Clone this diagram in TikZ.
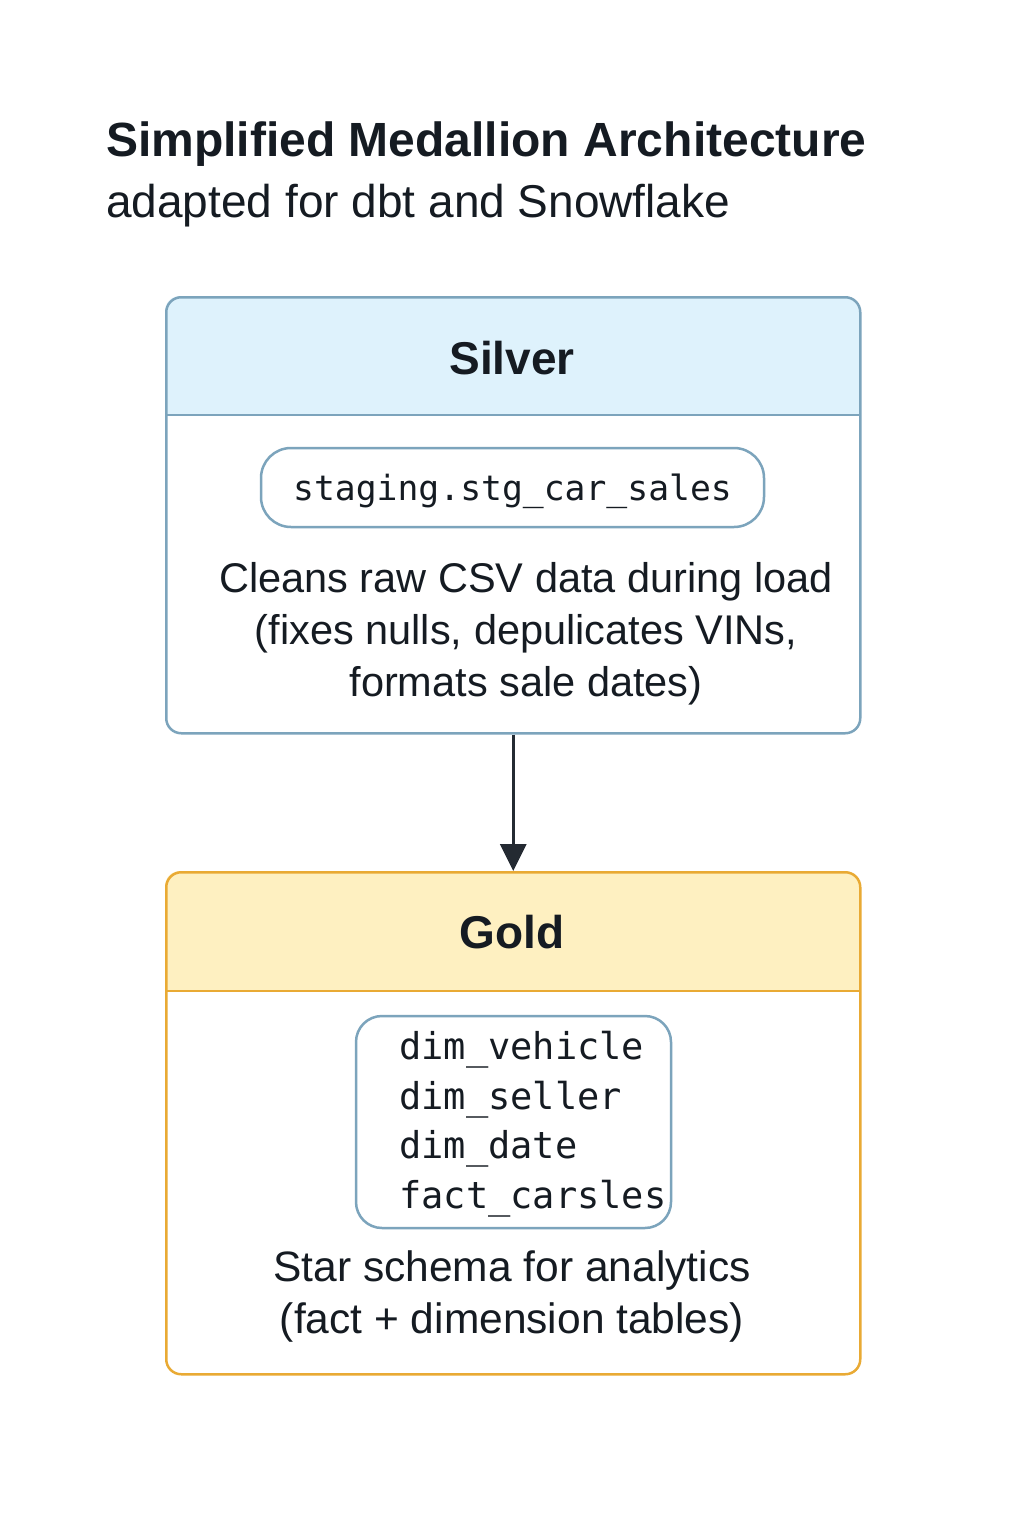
\documentclass[tikz,border=0pt]{standalone}
\usepackage{fontspec}
\setmainfont{Liberation Sans}
\setmonofont{DejaVu Sans Mono}
\usetikzlibrary{arrows.meta}

\definecolor{silverline}{RGB}{124,164,188}
\definecolor{silverfill}{RGB}{222,242,252}
\definecolor{goldline}{RGB}{233,170,52}
\definecolor{goldfill}{RGB}{254,240,193}
\definecolor{inkdark}{RGB}{21,27,34}
\definecolor{arrowink}{RGB}{36,42,50}

\tikzset{every picture/.style={line width=2.5pt},
  layerbox/.style={draw, rounded corners=15pt, inner sep=0pt, minimum width=694pt, anchor=north west},
  tablebox/.style={draw=silverline, rounded corners=26pt, inner sep=0pt},
  layertitle/.style={text=inkdark, inner sep=0pt, font=\fontsize{46}{55}\selectfont\bfseries},
  bodytext/.style={text=inkdark, inner sep=0pt, align=center, anchor=base, font=\fontsize{41.5}{52}\selectfont},
  codetext/.style={text=inkdark, inner sep=0pt, font=\fontsize{37}{49.5}\selectfont\ttfamily}
}

\begin{document}
\begin{tikzpicture}[x=1pt,y=1pt,yscale=-1,xscale=1]
%set diagram left start at 0, and has height of 1536
\fill[white] (0,0) rectangle (1024,1536);
\useasboundingbox (0,0) rectangle (1024,1536);

% Title
\node (title) [anchor=base west, inner sep=0pt, text=inkdark, font=\fontsize{48}{58}\selectfont\bfseries] at (105,157) {Simplified Medallion Architecture};
\node (subtitle) [anchor=base west, inner sep=0pt, text=inkdark, font=\fontsize{46}{56}\selectfont] at (105,217) {adapted for dbt and Snowflake};

%Silver header
\begin{scope}
\clip[rounded corners=15pt] (165,296) rectangle (859,732);
\fill[silverfill] (165,296) rectangle (859,415);
\end{scope}
%Silver layer
\node (silver) [layerbox, draw=silverline, minimum height=436pt] at (165,296) {};
\draw[silverline] (165,415) -- (859,415);
% Text Node
\node (silvertitle) [layertitle] at (512,358) {Silver};
%Rounded Rect
\node (stg) [tablebox, minimum width=503pt, minimum height=79pt, rounded corners=30pt, codetext, text depth=0pt, font=\fontsize{34.7}{42}\selectfont\ttfamily] at (512.5,487.5) {staging.stg\_car\_sales};
% Text Node (base = last line)
\node (stgnote) [bodytext] at (526,696) {Cleans raw CSV data during load\\(fixes nulls, depulicates VINs,\\formats sale dates)};

%Gold header
\begin{scope}
\clip[rounded corners=15pt] (165,871) rectangle (859,1373);
\fill[goldfill] (165,871) rectangle (859,991);
\end{scope}
%Gold layer
\node (gold) [layerbox, draw=goldline, minimum height=502pt] at (165,871) {};
\draw[goldline] (165,991) -- (859,991);
% Text Node
\node (goldtitle) [layertitle] at (512,932) {Gold};
%Rounded Rect
\node (tables) [tablebox, minimum width=315pt, minimum height=212pt] at (513.5,1122) {};
% Text Node (base = last line)
\node (tablelist) [codetext, anchor=base west, align=left] at (398,1208) {dim\_vehicle\\dim\_seller\\dim\_date\\fact\_carsles};
% Text Node
\node (goldnote) [bodytext, font=\fontsize{42.5}{52}\selectfont] at (512,1333) {Star schema for analytics\\(fact + dimension tables)};

%Straight Lines
\draw[arrowink, line width=3pt, -{Triangle[width=26pt,length=27pt]}] (silver) -- (gold);

\end{tikzpicture}
\end{document}
